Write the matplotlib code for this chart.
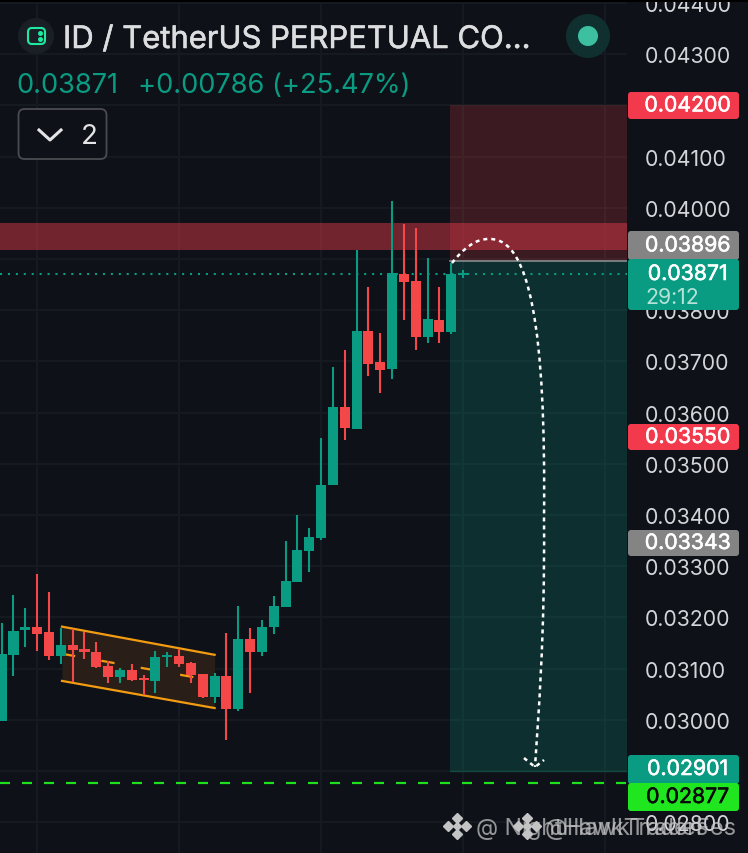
import matplotlib
matplotlib.use("Agg")
import matplotlib.pyplot as plt
import matplotlib.patheffects as pe
from matplotlib.patches import FancyBboxPatch, PathPatch, Circle, Rectangle
from matplotlib.path import Path

# candles
opens = [0.02998, 0.03127, 0.03176, 0.03182, 0.03172, 0.03125, 0.03146, 0.03139, 0.03133, 0.03105,
         0.03084, 0.03098, 0.03082, 0.03076, 0.03123, 0.03125, 0.03111, 0.03090, 0.03045, 0.03086,
         0.03021, 0.03158, 0.03133, 0.03182, 0.03221, 0.03270, 0.03330, 0.03355, 0.03459, 0.03611,
         0.03568, 0.03760, 0.03699, 0.03686, 0.03871, 0.03857, 0.03748, 0.03781, 0.03758, 0.03868]
closes = [0.03129, 0.03174, 0.03182, 0.03168, 0.03125, 0.03146, 0.03137, 0.03133, 0.03104, 0.03084,
          0.03098, 0.03078, 0.03078, 0.03123, 0.03127, 0.03109, 0.03088, 0.03045, 0.03086, 0.03021,
          0.03158, 0.03133, 0.03182, 0.03223, 0.03271, 0.03332, 0.03357, 0.03459, 0.03611, 0.03570,
          0.03760, 0.03695, 0.03684, 0.03873, 0.03855, 0.03748, 0.03783, 0.03758, 0.03871, 0.03871]
highs = [0.03189, 0.03244, 0.03219, 0.03285, 0.03250, 0.03180, 0.03178, 0.03172, 0.03152, 0.03115,
         0.03102, 0.03109, 0.03088, 0.03135, 0.03133, 0.03139, 0.03113, 0.03090, 0.03092, 0.03170,
         0.03223, 0.03180, 0.03195, 0.03242, 0.03350, 0.03400, 0.03375, 0.03551, 0.03689, 0.03723,
         0.03918, 0.03846, 0.03756, 0.04014, 0.03969, 0.03961, 0.03902, 0.03846, 0.03893, 0.03879]
lows = [0.02998, 0.03086, 0.03143, 0.03135, 0.03117, 0.03109, 0.03074, 0.03119, 0.03102, 0.03072,
        0.03072, 0.03076, 0.03049, 0.03053, 0.03104, 0.03104, 0.03072, 0.03043, 0.03033, 0.02961,
        0.03018, 0.03053, 0.03125, 0.03168, 0.03221, 0.03270, 0.03289, 0.03352, 0.03459, 0.03547,
        0.03568, 0.03672, 0.03639, 0.03666, 0.03781, 0.03723, 0.03736, 0.03736, 0.03754, 0.03863]

price_ticks = [0.028, 0.029, 0.030, 0.031, 0.032, 0.033, 0.034, 0.035, 0.036, 0.037, 0.038, 0.039,
               0.040, 0.041, 0.042, 0.043, 0.044]
grid_bars = [3, 15, 27, 39, 51]

last_price = 0.03871
stop_price = 0.04200
entry_price = 0.03896
target_price = 0.02901
low_line = 0.02877
zone_top, zone_bottom = 0.03971, 0.03918
# channel: bar, upper price, lower price
chan_bars = [5.1, 18.0]
chan_upper = [0.03182, 0.03127]
chan_lower = [0.03076, 0.03023]
chan_mid = [0.03129, 0.03076]

bg = "#0e1118"
grid_c = "#151920"
up = "#0a9c82"
down = "#f44848"
tag_red = "#f33a4d"
W, H = 748, 854
label_size = 15.3

plt.rcParams["font.family"] = ["Inter", "DejaVu Sans"]
fig = plt.figure(figsize=(W / 100, H / 100), dpi=100, facecolor=bg)
ax = fig.add_axes([0, 0, 627 / W, 1], facecolor=bg)
ax.set_xlim(-0.141, 52.86)
ax.set_ylim(0.027399, 0.0440785)
for s in ax.spines.values():
    s.set_visible(False)

ax.set_yticks(price_ticks)
ax.set_yticklabels(["%.5f" % p for p in price_ticks])
ax.yaxis.tick_right()
ax.set_xticks(grid_bars)
ax.tick_params(axis="x", length=0, labelbottom=False)
ax.tick_params(axis="y", length=0, pad=12.5, labelsize=label_size, labelcolor="#d4d5d8")
ax.grid(True, color=grid_c, lw=1.6, zorder=0)
ax.set_axisbelow(True)

xs = list(range(len(opens)))

# position boxes and supply zone
right = ax.get_xlim()[1]
ax.fill_between([37.9, right], entry_price, stop_price, color="#f44848", alpha=0.2, lw=0, zorder=1)
ax.fill_between([37.9, right], target_price, entry_price, color="#0a9c82", alpha=0.22, lw=0, zorder=1)
ax.plot([37.9, right], [entry_price, entry_price], color="#8a8c90", lw=1.2, zorder=1.5)
ax.plot([37.9, right], [target_price, target_price], color="#14493f", lw=1.0, zorder=1.5)
ax.axhspan(zone_bottom, zone_top, color="#ec394b", alpha=0.45, lw=0, zorder=1.2)

# flag channel
ax.fill_between(chan_bars, chan_lower, chan_upper, color="#2a1f18", lw=0, zorder=1.3)
ax.plot(chan_bars, chan_mid, color="#f39c12", lw=1.6, dashes=(6, 12), zorder=1.4)
ax.plot(chan_bars, chan_upper, color="#f39c12", lw=1.6, zorder=2.5)
ax.plot(chan_bars, chan_lower, color="#f39c12", lw=1.6, zorder=2.5)

# candles
colors = [up if c >= o else down for o, c in zip(opens, closes)]
ax.vlines(xs, lows, highs, colors=colors, lw=1.5, zorder=3)
ax.bar(xs, [max(abs(c - o), 0.00004) for o, c in zip(opens, closes)],
       bottom=[min(o, c) for o, c in zip(opens, closes)], width=0.85, color=colors, lw=0, zorder=3)

ax.axhline(last_price, color=up, lw=1.5, dashes=(1, 2.8), zorder=2.8)
ax.axhline(low_line, color="#1fe01f", lw=1.6, dashes=(4.5, 5.4), zorder=2.8)

# overlay in pixels for header, price tags and drawing tools
ov = fig.add_axes([0, 0, 1, 1], facecolor="none")
ov.set_xlim(0, W)
ov.set_ylim(H, 0)
ov.axis("off")

ov.add_patch(Rectangle((0, 0), W, 3, color="#000000", lw=0))


def tag(top, bottom, color):
    ov.add_patch(FancyBboxPatch((628, top), 111, bottom - top, boxstyle="round,pad=0,rounding_size=3",
                                fc=color, ec="none", zorder=5))


def tag_text(y, s, color="white"):
    t = ov.text(687.5, y, s, color=color, fontsize=label_size, ha="center", va="center", zorder=6)
    t.set_path_effects([pe.withStroke(linewidth=0.4, foreground=color)])


tag(93, 120, tag_red)
tag_text(106.5, "0.04200")
tag(232, 261, "#848484")
tag_text(246.5, "0.03896")
tag(260, 311, up)
tag_text(275, "0.03871")
ov.text(645, 298, "29:12", color="#b5e3d8", fontsize=label_size, va="center", zorder=6)
tag(425, 451, tag_red)
tag_text(438, "0.03550")
tag(531, 557, "#848484")
tag_text(544, "0.03343")
tag(756, 785, up)
tag_text(770, "0.02901")
tag(784, 812, "#1fe61f")
tag_text(798, "0.02877", color="#0a0a0a")

# header
ov.add_patch(Circle((36, 37), 18, fc="#1a1f26", ec="none"))
ov.add_patch(FancyBboxPatch((28, 29), 17, 16, boxstyle="round,pad=0,rounding_size=4", fc="none", ec="#1de9a0", lw=1.5))
ov.plot([40, 40], [34, 40], ls="none", marker="o", ms=2.6, color="#1de9a0")
title = ov.text(63, 41, "ID / TetherUS PERPETUAL CO...", color="#dcdddf", fontsize=22.3, va="center")
title.set_path_effects([pe.withStroke(linewidth=0.4, foreground="#dcdddf")])
ov.text(16, 86, "0.03871", color=up, fontsize=19.6, va="center")
ov.text(138, 86, "+0.00786 (+25.47%)", color=up, fontsize=19.6, va="center")
ov.add_patch(FancyBboxPatch((18.5, 110), 88, 50, boxstyle="round,pad=0,rounding_size=6", fc=bg, ec="#4a4c50", lw=1.3))
ov.plot([39, 50, 61], [131, 141, 131], color="#e4e4e6", lw=2.2)
ov.text(89, 137, "2", color="#e4e4e6", fontsize=20, ha="center", va="center")
ov.add_patch(Circle((588, 37), 22, fc="#10302f", ec="none"))
ov.add_patch(Circle((588, 37), 10, fc="#3cc0a0", ec="none"))

# hand drawn arrow
arrow = Path([(452, 264), (463, 250), (476, 239), (490, 240),
              (530, 240), (546, 330), (544, 520), (545, 640), (538, 720), (535, 768)],
             [Path.MOVETO] + [Path.CURVE4] * 9)
ov.add_patch(PathPatch(arrow, fc="none", ec="white", lw=1.8, ls=(0, (1.6, 1.6)), zorder=4))
ov.plot([524, 535, 544], [759, 768, 761], color="white", lw=1.8, ls=(0, (1.6, 1.6)), zorder=4)

# watermarks
for cx, cy in [(457, 827), (527, 827)]:
    ov.plot([cx, cx - 9, cx + 9, cx], [cy - 8, cy, cy, cy + 8], ls="none", marker="D", ms=5, color="#c4c4c4", zorder=7)
    ov.plot([cx], [cy], ls="none", marker="D", ms=4, color="#c4c4c4", zorder=7)
ov.text(476, 829, "@ NightHawkTraders", color="#c4c4c4", fontsize=16.5, va="center", alpha=0.75, zorder=7)
ov.text(545, 829, "@HawkTradeFes", color="#c4c4c4", fontsize=17, va="center", alpha=0.75, zorder=7)

fig.savefig("out.png", dpi=100, facecolor=bg)
